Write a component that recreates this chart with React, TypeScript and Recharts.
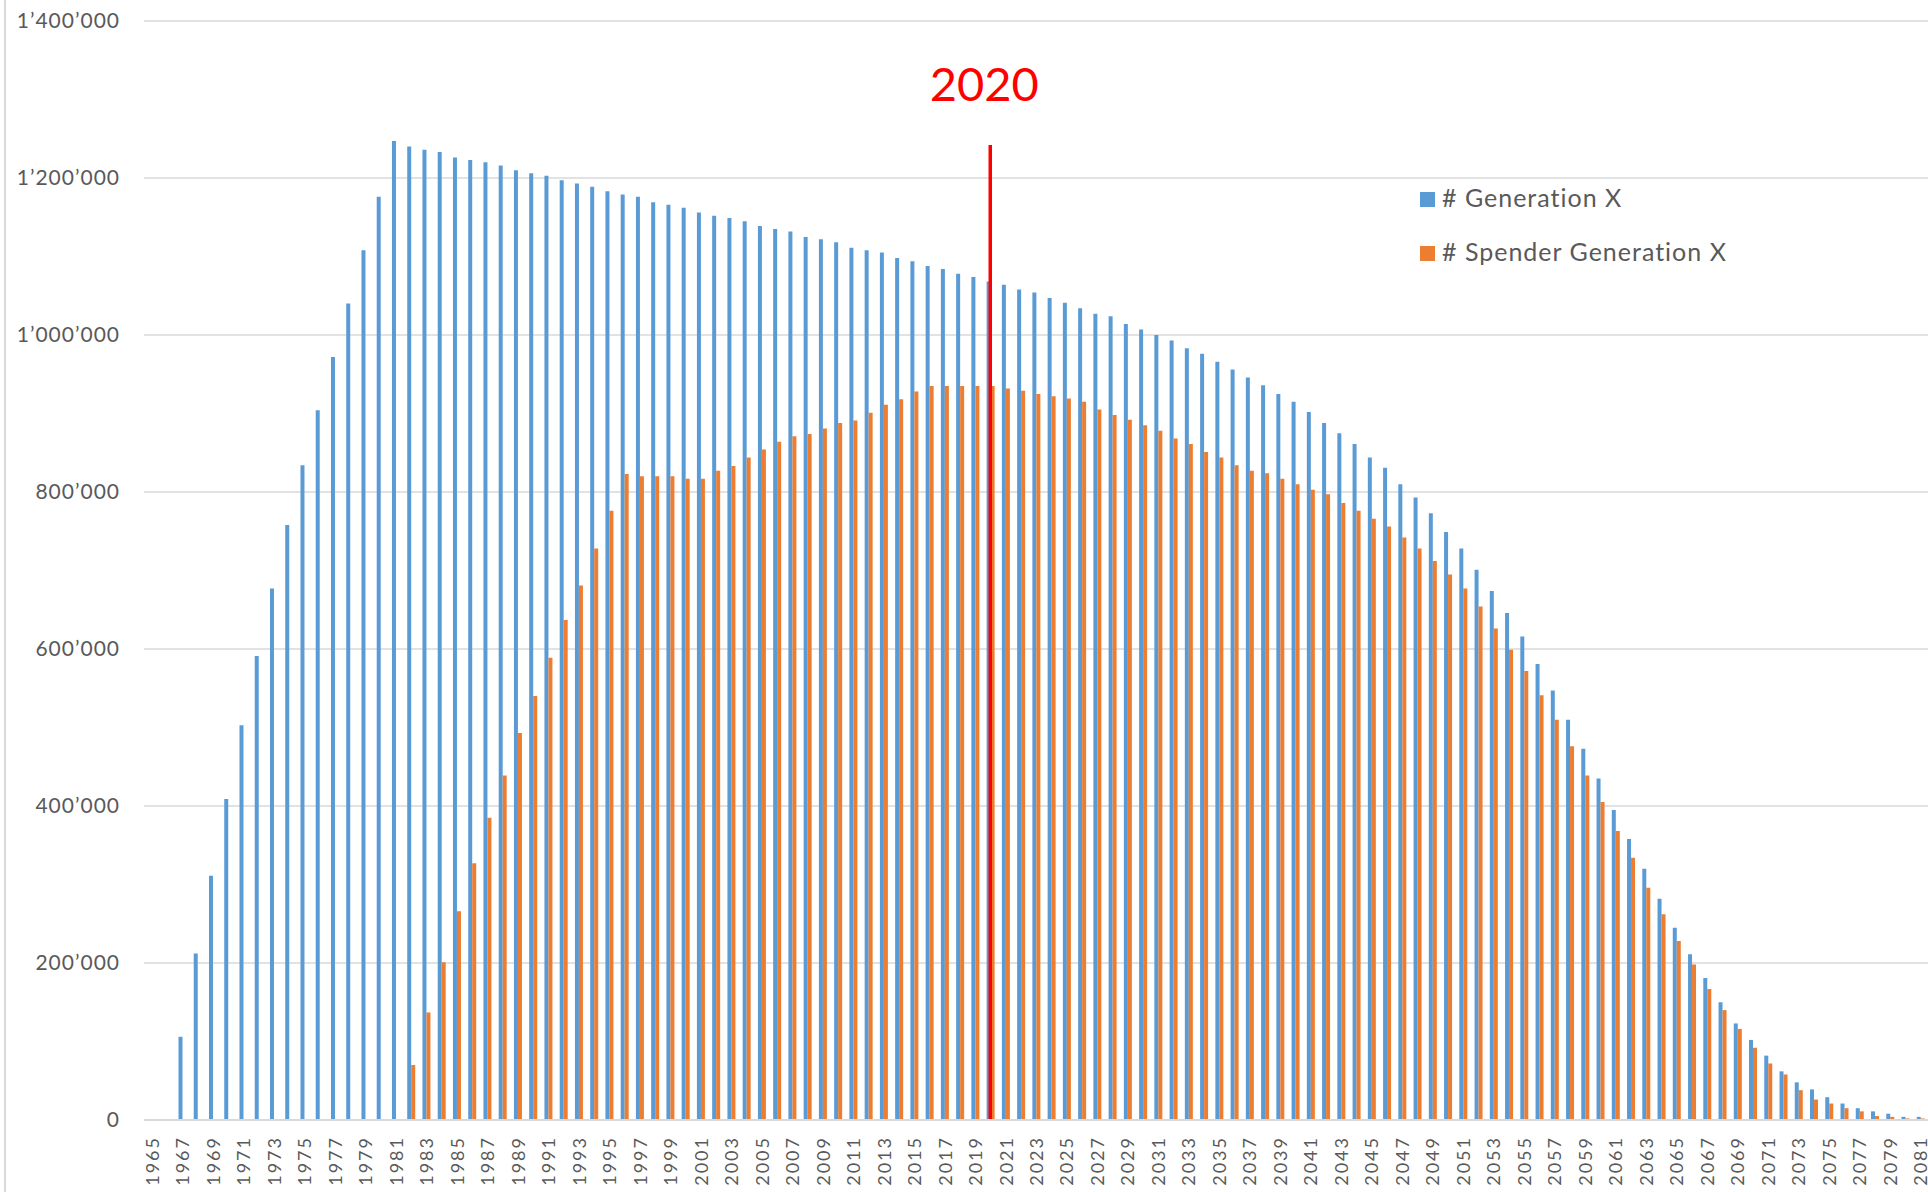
import { BarChart, Bar, XAxis, YAxis, CartesianGrid, ReferenceLine, Legend } from "recharts"

// categories: one per year
const years = [
  1965, 1966, 1967, 1968, 1969, 1970, 1971, 1972, 1973, 1974, 1975, 1976, 1977, 1978, 1979,
  1980, 1981, 1982, 1983, 1984, 1985, 1986, 1987, 1988, 1989, 1990, 1991, 1992, 1993, 1994,
  1995, 1996, 1997, 1998, 1999, 2000, 2001, 2002, 2003, 2004, 2005, 2006, 2007, 2008, 2009,
  2010, 2011, 2012, 2013, 2014, 2015, 2016, 2017, 2018, 2019, 2020, 2021, 2022, 2023, 2024,
  2025, 2026, 2027, 2028, 2029, 2030, 2031, 2032, 2033, 2034, 2035, 2036, 2037, 2038, 2039,
  2040, 2041, 2042, 2043, 2044, 2045, 2046, 2047, 2048, 2049, 2050, 2051, 2052, 2053, 2054,
  2055, 2056, 2057, 2058, 2059, 2060, 2061, 2062, 2063, 2064, 2065, 2066, 2067, 2068, 2069,
  2070, 2071, 2072, 2073, 2074, 2075, 2076, 2077, 2078, 2079, 2080, 2081,
]

// # Generation X
const generationX = [
  0, 0, 106000, 212000, 311000, 409000, 503000, 591000, 677000, 758000, 834000, 904000, 972000, 1040000, 1108000,
  1176000, 1247000, 1240000, 1236000, 1233000, 1226000, 1223000, 1220000, 1216000, 1210000, 1206000, 1203000, 1197000, 1193000, 1189000,
  1183000, 1179000, 1176000, 1169000, 1166000, 1162000, 1156000, 1152000, 1149000, 1145000, 1139000, 1135000, 1132000, 1125000, 1122000,
  1118000, 1111000, 1108000, 1105000, 1098000, 1094000, 1088000, 1084000, 1078000, 1074000, 1068000, 1064000, 1058000, 1054000, 1047000,
  1041000, 1034000, 1027000, 1024000, 1014000, 1007000, 1000000, 993000, 983000, 976000, 966000, 956000, 946000, 936000, 925000,
  915000, 902000, 888000, 875000, 861000, 844000, 831000, 810000, 793000, 773000, 749000, 728000, 701000, 674000, 646000,
  616000, 581000, 547000, 510000, 473000, 435000, 395000, 358000, 320000, 282000, 245000, 211000, 181000, 150000, 123000,
  102000, 82000, 62000, 48000, 39000, 29000, 21000, 15000, 11000, 8000, 4000, 4000,
]

// # Spender Generation X
const spenderGenerationX = [
  0, 0, 0, 0, 0, 0, 0, 0, 0, 0, 0, 0, 0, 0, 0,
  0, 0, 70000, 137000, 201000, 266000, 327000, 385000, 439000, 493000, 540000, 589000, 637000, 681000, 728000,
  776000, 823000, 820000, 820000, 820000, 817000, 817000, 827000, 833000, 844000, 854000, 864000, 871000, 874000, 881000,
  888000, 891000, 901000, 911000, 918000, 928000, 935000, 935000, 935000, 935000, 935000, 932000, 929000, 925000, 922000,
  919000, 915000, 905000, 898000, 892000, 885000, 878000, 868000, 861000, 851000, 844000, 834000, 827000, 824000, 817000,
  810000, 803000, 797000, 786000, 776000, 766000, 756000, 742000, 728000, 712000, 695000, 677000, 654000, 626000, 599000,
  572000, 541000, 510000, 476000, 439000, 405000, 368000, 334000, 296000, 262000, 228000, 198000, 167000, 140000, 116000,
  92000, 72000, 58000, 38000, 26000, 21000, 15000, 11000, 5000, 4000, 2000, 2000,
]

const yTicks = [0, 200000, 400000, 600000, 800000, 1000000, 1200000, 1400000]
const markerYear = "2020"
const markerTop = 1242000

const BLUE = "#5B9BD5"
const ORANGE = "#ED7D31"
const TEXT = "#595959"
const GRID = "#d9d9d9"
const FONT = "Lato, 'Open Sans', sans-serif"

const data = years.map((year, i) => ({
  year: String(year),
  genX: generationX[i],
  spender: spenderGenerationX[i],
}))

const formatThousands = (v: number) => String(v).replace(/\B(?=(\d{3})+(?!\d))/g, "\u2019")

const YearTick = ({ x, y, payload }: any) => (
  <text
    x={x}
    y={y}
    transform={`rotate(-90 ${x} ${y})`}
    textAnchor="end"
    dominantBaseline="central"
    fill={TEXT}
    fontSize={18}
    letterSpacing={2}
    fontFamily={FONT}
  >
    {payload.value}
  </text>
)

const LegendBox = ({ payload }: any) => (
  <div style={{ fontFamily: FONT, fontSize: 25, color: TEXT, letterSpacing: 1 }}>
    {(payload || []).map((entry: any) => (
      <div key={entry.value} style={{ display: "flex", alignItems: "center", height: 54 }}>
        <span style={{ width: 15, height: 15, background: entry.color, marginRight: 7, marginTop: 4 }} />
        <span>{entry.value}</span>
      </div>
    ))}
  </div>
)

export default function App() {
  return (
    <div style={{ position: "absolute", left: 0, top: 0, width: 1928, height: 1192, background: "#fff", overflow: "hidden" }}>
      <div style={{ position: "absolute", left: 4, top: 0, width: 2, height: 1192, background: GRID }} />
      <BarChart
        width={1928}
        height={1192}
        data={data}
        margin={{ top: 21, right: 0, left: 0, bottom: 0 }}
        barGap={0}
        barSize={4}
      >
        <CartesianGrid vertical={false} stroke={GRID} strokeWidth={1.5} />
        <XAxis
          dataKey="year"
          interval={1}
          height={72}
          tickLine={false}
          tickMargin={10}
          axisLine={{ stroke: GRID, strokeWidth: 2 }}
          tick={<YearTick />}
        />
        <YAxis
          width={144}
          domain={[0, 1400000]}
          ticks={yTicks}
          tickFormatter={formatThousands}
          axisLine={false}
          tickLine={false}
          tickMargin={18}
          tick={{ fill: TEXT, fontSize: 21, fontFamily: FONT, letterSpacing: 1 }}
        />
        <Legend
          layout="vertical"
          align="center"
          verticalAlign="middle"
          content={<LegendBox />}
          wrapperStyle={{ left: 1420, top: 170, right: "auto", bottom: "auto", width: 420 }}
        />
        <Bar dataKey="genX" name="# Generation X" fill={BLUE} isAnimationActive={false} />
        <Bar dataKey="spender" name="# Spender Generation X" fill={ORANGE} isAnimationActive={false} />
        <ReferenceLine
          segment={[
            { x: markerYear, y: markerTop },
            { x: markerYear, y: 0 },
          ]}
          stroke="#ff0000"
          strokeWidth={3.5}
          label={{ value: "2020", position: "top", offset: 44, dx: -6, fill: "#ff0000", fontSize: 47, fontFamily: FONT }}
        />
      </BarChart>
    </div>
  )
}
